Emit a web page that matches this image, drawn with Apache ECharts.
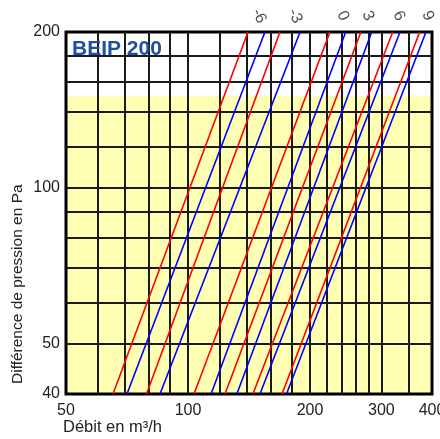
<!DOCTYPE html>
<html>
<head>
<meta charset="utf-8">
<script src="https://cdn.jsdelivr.net/npm/echarts@6/dist/echarts.min.js"></script>
<style>
html,body{margin:0;padding:0;background:#fff;}
#c{width:440px;height:439px;}
</style>
</head>
<body>
<div id="c"></div>
<script>
// ---- data ----
const pressureEnds = [40, 200];               // Pa, line endpoints
const settings = ['-6', '-3', '0', '3', '6', '9'];
const redQ40  = [65.3, 79.0, 103.5, 123.4, 144.6, 170.6];   // m³/h at 40 Pa
const redQ200 = [140.6, 168.6, 224, 267, 320, 373];         // m³/h at 200 Pa
const blueQ40  = [70.7, 85.3, 114, 132, 150.5, 175];
const blueQ200 = [154.8, 189, 245, 284, 333.5, 386.5];
const labelQ = [149.7, 183.7, 241, 278, 331.6, 391];
const xGridValues = [60, 70, 80, 90, 100, 120, 140, 160, 180, 200, 220, 240, 260, 280, 300, 350];
const yGridValues = [50, 60, 70, 80, 90, 100, 120, 140, 160, 180];
const xTickLabels = [50, 100, 200, 300, 400];
const yTickLabels = [40, 50, 100, 200];
const xRange = [50, 400];
const yRange = [40, 200];
const zoneTop = 150;   // yellow zone upper limit, Pa

const FONT = '"Liberation Sans", Arial, sans-serif';
const chart = echarts.init(document.getElementById('c'));

const f = (Math.log10(yRange[1]) - Math.log10(zoneTop)) / (Math.log10(yRange[1]) - Math.log10(yRange[0]));
const bg = new echarts.graphic.LinearGradient(0, 0, 0, 1, [
  {offset: 0, color: '#ffffff'},
  {offset: f, color: '#ffffff'},
  {offset: f, color: '#ffffb4'},
  {offset: 1, color: '#ffffb4'}
]);

const series = [];
for (let i = 0; i < settings.length; i++) {
  series.push({
    type: 'line', name: 'r' + settings[i], showSymbol: false, symbol: 'none',
    data: [[redQ40[i], pressureEnds[0]], [redQ200[i], pressureEnds[1]]],
    lineStyle: {color: '#ff0000', width: 1.6}, z: 3, silent: true
  });
  series.push({
    type: 'line', name: 'b' + settings[i], showSymbol: false, symbol: 'none',
    data: [[blueQ40[i], pressureEnds[0]], [blueQ200[i], pressureEnds[1]]],
    lineStyle: {color: '#0000ff', width: 1.6}, z: 3, silent: true
  });
}
series.push({
  type: 'scatter', symbolSize: 0, clip: false, silent: true,
  data: labelQ.map((q, i) => ({value: [q, yRange[1]], name: settings[i]})),
  label: {
    show: true, position: 'top', distance: 16, rotate: -65,
    align: 'center', verticalAlign: 'middle',
    formatter: p => p.name, fontSize: 16, color: '#222', fontFamily: FONT
  }
});

const axisCommon = {
  type: 'log', logBase: 10,
  axisLine: {show: false},
  axisTick: {show: false},
  splitLine: {show: true, lineStyle: {color: '#1a1a1a', width: 2}},
  minorSplitLine: {show: false}
};

chart.setOption({
  animation: false,
  grid: {
    left: 66, right: 8, top: 32, bottom: 45,
    outerBoundsMode: 'none', containLabel: false,
    show: true, backgroundColor: bg, borderColor: '#000', borderWidth: 3
  },
  xAxis: Object.assign({}, axisCommon, {
    min: xRange[0], max: xRange[1],
    axisTick: {show: false, customValues: xGridValues},
    axisLabel: {customValues: xTickLabels, fontSize: 16, color: '#222', fontFamily: FONT, margin: 9}
  }),
  yAxis: Object.assign({}, axisCommon, {
    min: yRange[0], max: yRange[1],
    axisTick: {show: false, customValues: yGridValues},
    axisLabel: {customValues: yTickLabels, fontSize: 16, color: '#222', fontFamily: FONT, margin: 6}
  }),
  graphic: [
    {type: 'text', left: 72, top: 39, z: 10, silent: true,
     style: {text: 'BEIP 200', fill: '#1f4fa8', font: 'bold 21px ' + FONT}},
    {type: 'text', left: 63, top: 419, silent: true,
     style: {text: 'Débit en m³/h', fill: '#222', font: '16.5px ' + FONT}},
    {type: 'text', x: 10, y: 384, rotation: Math.PI / 2, silent: true,
     style: {text: 'Différence de pression en Pa', fill: '#222', font: '15.5px ' + FONT}}
  ],
  series: series
});
</script>
</body>
</html>
